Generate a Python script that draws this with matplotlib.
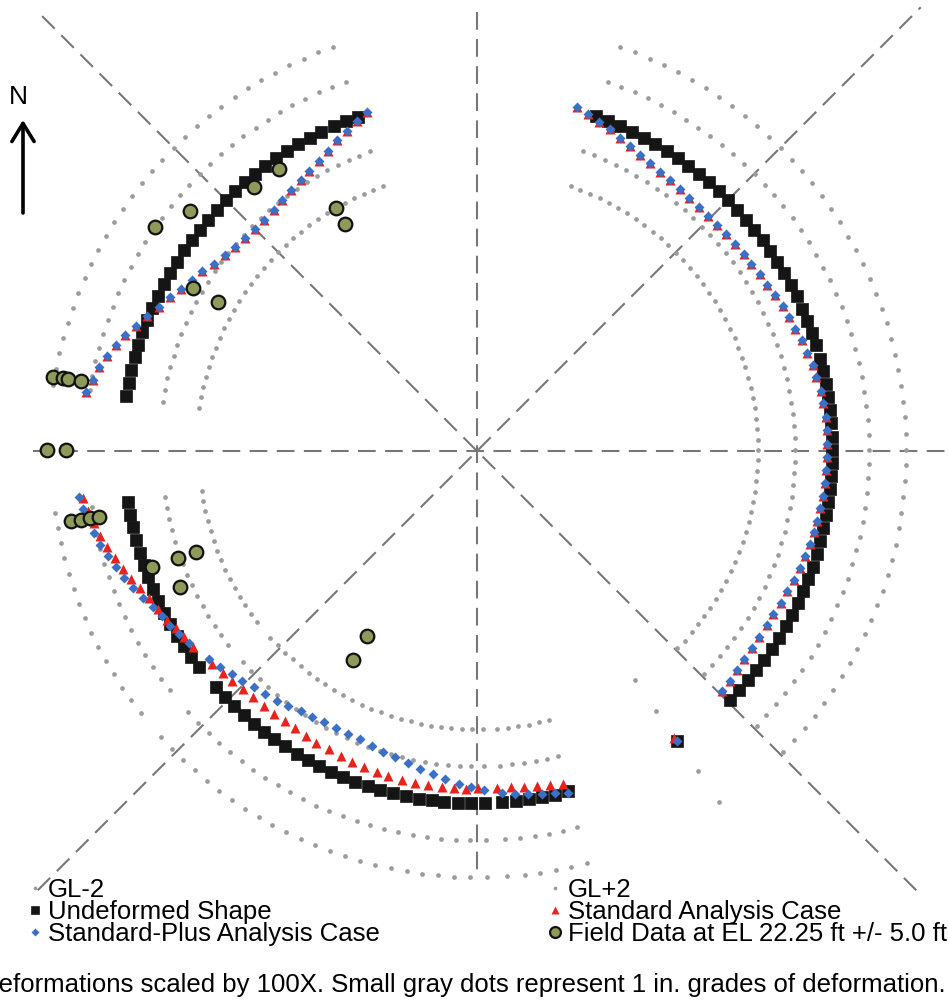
import numpy as np
import matplotlib
matplotlib.use("Agg")
from matplotlib import pyplot as plt

plt.rcParams['font.family'] = ['Liberation Sans', 'DejaVu Sans']

PX_PER_FT = 355 / 80.0     # drawing scale (pixels per foot)
SCALE = 100 / 12.0         # 1 in. of deformation drawn as 100 in. (in ft)

# wall stations, degrees counter-clockwise from east; deformations in inches
# (dr = radial, outward positive; dt = tangential, counter-clockwise positive)
right_angle = [70.5, 68.4, 66.2, 64.1, 62.0, 59.9, 57.7, 55.6, 53.5, 51.3,
               49.2, 47.1, 44.9, 42.8, 40.7, 38.6, 36.4, 34.3, 32.2, 30.0,
               27.9, 25.8, 23.6, 21.5, 19.4, 17.3, 15.1, 13.0, 10.9, 8.7,
               6.6, 4.5, 2.3, 0.2, -1.9, -4.0, -6.2, -8.3, -10.4, -12.6,
               -14.7, -16.8, -19.0, -21.1, -23.2, -25.3, -27.5, -29.6, -31.7, -33.9,
               -36.0, -38.1, -40.2, -42.4, -44.5]
right_radius = 80.0
right_plus_dr = [0.08, -0.03, -0.12, -0.21, -0.31, -0.38, -0.48, -0.53, -0.59, -0.62,
                 -0.65, -0.67, -0.69, -0.69, -0.69, -0.69, -0.66, -0.64, -0.62, -0.59,
                 -0.56, -0.50, -0.46, -0.42, -0.39, -0.32, -0.28, -0.23, -0.21, -0.17,
                 -0.15, -0.13, -0.11, -0.13, -0.14, -0.15, -0.16, -0.17, -0.19, -0.21,
                 -0.23, -0.26, -0.29, -0.32, -0.36, -0.39, -0.42, -0.45, -0.46, -0.47,
                 -0.46, -0.44, -0.41, -0.37, -0.33]
right_plus_dt = [0.56, 0.56, 0.57, 0.57, 0.57, 0.56, 0.55, 0.54, 0.52, 0.50,
                 0.48, 0.46, 0.44, 0.42, 0.40, 0.38, 0.36, 0.34, 0.33, 0.32,
                 0.30, 0.29, 0.28, 0.27, 0.26, 0.25, 0.24, 0.23, 0.22, 0.21,
                 0.20, 0.19, 0.18, 0.16, 0.15, 0.15, 0.15, 0.15, 0.16, 0.17,
                 0.18, 0.19, 0.19, 0.18, 0.17, 0.16, 0.14, 0.12, 0.10, 0.08,
                 0.06, 0.04, 0.03, 0.02, 0.02]
# both analysis cases plot on top of each other along this wall
right_std_dr = list(right_plus_dr)
right_std_dt = list(right_plus_dt)

single_angle = [-55.4]
single_radius = 79.4
single_plus_dr = [0.0]
single_plus_dt = [0.0]
single_std_dr = [-0.12]
single_std_dt = [-0.03]

bottom_angle = [188.3, 190.4, 192.5, 194.6, 196.8, 198.9, 201.0, 203.1, 205.2, 207.3,
                209.5, 211.6, 213.7, 215.8, 217.9, 222.1, 224.3, 226.4, 228.5, 230.7,
                232.8, 234.9, 237.0, 239.2, 241.3, 243.4, 245.6, 247.7, 249.8, 252.0,
                254.1, 256.2, 258.3, 260.5, 262.6, 264.7, 266.9, 269.0, 271.3, 274.1,
                276.4, 278.5, 280.7, 282.8, 284.9]
bottom_radius = 79.4
bottom_plus_dr = [1.29, 1.23, 1.12, 1.05, 0.96, 0.83, 0.71, 0.59, 0.47, 0.32,
                  0.17, 0.08, 0.01, -0.10, -0.19, -0.38, -0.48, -0.59, -0.66, -0.77,
                  -0.83, -0.89, -0.96, -1.04, -1.08, -1.11, -1.14, -1.13, -1.14, -1.07,
                  -1.01, -0.97, -0.89, -0.80, -0.72, -0.62, -0.51, -0.44, -0.36, -0.26,
                  -0.20, -0.15, -0.09, -0.05, 0.04]
bottom_plus_dt = [-0.33, -0.38, -0.43, -0.47, -0.51, -0.54, -0.57, -0.59, -0.61, -0.62,
                  -0.64, -0.66, -0.68, -0.69, -0.69, -0.69, -0.67, -0.65, -0.63, -0.61,
                  -0.58, -0.55, -0.52, -0.49, -0.46, -0.42, -0.38, -0.33, -0.28, -0.24,
                  -0.21, -0.17, -0.13, -0.09, -0.06, -0.03, -0.01, 0.00, -0.02, 0.01,
                  0.00, 0.00, 0.00, 0.00, 0.00]
bottom_std_dr = [1.19, 1.11, 1.00, 0.91, 0.80, 0.67, 0.55, 0.44, 0.31, 0.19,
                 0.09, 0.02, -0.11, -0.17, -0.22, -0.36, -0.43, -0.45, -0.51, -0.53,
                 -0.56, -0.56, -0.57, -0.58, -0.56, -0.53, -0.54, -0.50, -0.47, -0.46,
                 -0.44, -0.43, -0.41, -0.40, -0.40, -0.40, -0.40, -0.39, -0.42, -0.40,
                 -0.40, -0.36, -0.33, -0.29, -0.23]
bottom_std_dt = [-0.27, -0.30, -0.33, -0.33, -0.40, -0.43, -0.45, -0.48, -0.52, -0.53,
                 -0.53, -0.50, -0.53, -0.55, -0.53, -0.53, -0.50, -0.50, -0.47, -0.47,
                 -0.42, -0.40, -0.37, -0.40, -0.35, -0.35, -0.33, -0.28, -0.28, -0.28,
                 -0.23, -0.23, -0.18, -0.18, -0.15, -0.10, -0.13, -0.15, -0.17, -0.12,
                 -0.10, -0.08, -0.08, -0.08, -0.07]

left_angle = [109.6, 111.7, 113.8, 116.0, 118.1, 120.2, 122.3, 124.4, 126.6, 128.7,
              130.8, 132.9, 135.0, 137.2, 139.3, 141.4, 143.5, 145.6, 147.8, 149.9,
              152.0, 154.1, 156.2, 158.4, 160.5, 162.6, 164.7, 166.8, 169.0, 171.1]
left_radius = 80.0
left_plus_dr = [0.04, -0.11, -0.25, -0.38, -0.53, -0.66, -0.77, -0.87, -0.95, -1.00,
                -1.08, -1.10, -1.11, -1.08, -1.04, -0.97, -0.87, -0.73, -0.61, -0.48,
                -0.31, -0.15, 0.03, 0.23, 0.41, 0.57, 0.72, 0.86, 0.97, 1.08]
left_plus_dt = [-0.27, -0.28, -0.27, -0.27, -0.26, -0.25, -0.22, -0.20, -0.17, -0.14,
                -0.09, -0.04, 0.00, 0.04, 0.08, 0.12, 0.16, 0.19, 0.20, 0.21,
                0.23, 0.25, 0.26, 0.25, 0.22, 0.18, 0.15, 0.12, 0.10, 0.06]
left_std_dr = list(left_plus_dr)
left_std_dt = list(left_plus_dt)

# field survey points, ft from shaft centre
field_x = [-72.6, -64.7, -50.3, -44.6, -31.8, -29.7, -64.0, -58.4, -95.5, -93.3, -92.2, -89.2,
           -96.9, -92.6, -91.5, -89.2, -87.2, -85.2, -73.2, -67.4, -63.3, -66.9, -24.8, -27.9]
field_y = [50.5, 54.1, 59.5, 63.5, 54.8, 51.2, 36.7, 33.6, 16.7, 16.5, 16.2, 15.8,
           0.2, 0.2, -15.8, -15.5, -15.1, -14.9, -26.1, -24.1, -22.8, -30.6, -41.7, -47.1]

grades = [-2, -1, 1, 2]

segments = [
    (right_angle, right_radius, right_plus_dr, right_plus_dt, right_std_dr, right_std_dt),
    (single_angle, single_radius, single_plus_dr, single_plus_dt, single_std_dr, single_std_dt),
    (bottom_angle, bottom_radius, bottom_plus_dr, bottom_plus_dt, bottom_std_dr, bottom_std_dt),
    (left_angle, left_radius, left_plus_dr, left_plus_dt, left_std_dr, left_std_dt),
]


def place(angle, r0, dr, dt):
    a = np.radians(angle)
    r = r0 + SCALE * np.asarray(dr, float)
    t = SCALE * np.asarray(dt, float)
    return r * np.cos(a) - t * np.sin(a), r * np.sin(a) + t * np.cos(a)


def collect(which):
    xs, ys = [], []
    for seg in segments:
        ang, r0 = seg[0], seg[1]
        if which == 'base':
            x, y = place(ang, r0, np.zeros(len(ang)), np.zeros(len(ang)))
        elif which == 'plus':
            x, y = place(ang, r0, seg[2], seg[3])
        elif which == 'std':
            x, y = place(ang, r0, seg[4], seg[5])
        else:
            x, y = place(ang, r0, np.full(len(ang), which), np.zeros(len(ang)))
        xs.append(x)
        ys.append(y)
    return np.concatenate(xs), np.concatenate(ys)


W, H = 948, 1005
cx, cy = 477, 451
fig = plt.figure(figsize=(W / 100, H / 100), dpi=100)
ax = fig.add_axes([0, 0, 1, 1])
ax.set_xlim(-cx / PX_PER_FT, (W - cx) / PX_PER_FT)
ax.set_ylim(-(H - cy) / PX_PER_FT, cy / PX_PER_FT)
ax.axis('off')

dash = dict(color='#777777', lw=1.5, linestyle=(0, (8.5, 4.5)), zorder=1)
ax.plot([-100, 110], [0, 0], **dash)
ax.plot([0, 0], [99, -96], **dash)
ax.plot([-98, 99], [98, -99], **dash)
ax.plot([-99, 100], [-99, 100], **dash)

handles = {}
for g in grades:
    gx, gy = collect(g)
    lab = 'GL%+d' % g if abs(g) == 2 else '_nolegend_'
    h, = ax.plot(gx, gy, 'o', ms=3.4, color='#9c9c9c', mec='none', label=lab, zorder=2)
    handles[g] = h

bx, by = collect('base')
h_base, = ax.plot(bx, by, 's', ms=8.0, color='#151515', mec='#151515', mew=0.5,
                  label='Undeformed Shape', zorder=3)
sx, sy = collect('std')
h_std, = ax.plot(sx, sy, '^', ms=6.8, color='#e8231e', mec='none',
                 label='Standard Analysis Case', zorder=4)
px, py = collect('plus')
h_plus, = ax.plot(px, py, 'D', ms=5.0, color='#3a70c6', mec='none',
                  label='Standard-Plus Analysis Case', zorder=5)
h_field, = ax.plot(field_x, field_y, 'o', ms=9.8, color='#8d9a59', mec='#111111', mew=1.6,
                   label='Field Data at EL 22.25 ft +/- 5.0 ft', zorder=6)

fs = 18.5
leg_opts = dict(frameon=False, fontsize=fs, handlelength=0.5, handletextpad=0.25,
                labelspacing=-0.07, borderpad=0, borderaxespad=0, loc='upper left',
                markerscale=0.8)
fig.legend([handles[-2], h_base, h_plus],
           ['GL-2', 'Undeformed Shape', 'Standard-Plus Analysis Case'],
           bbox_to_anchor=(28.6 / W, 1 - 878 / H), **leg_opts)
fig.legend([handles[2], h_std, h_field],
           ['GL+2', 'Standard Analysis Case', 'Field Data at EL 22.25 ft +/- 5.0 ft'],
           bbox_to_anchor=(548.6 / W, 1 - 878 / H), **leg_opts)

fig.text(946 / W, 20 / H,
         'Deformations scaled by 100X. Small gray dots represent 1 in. grades of deformation.',
         ha='right', va='center', fontsize=fs)

# north arrow
fig.text(18 / W, 1 - 97 / H, 'N', ha='center', va='center', fontsize=19)
ax.annotate('', xy=(23 / W, 1 - 120 / H), xytext=(23 / W, 1 - 213 / H),
            xycoords='figure fraction', textcoords='figure fraction',
            arrowprops=dict(arrowstyle='->,head_length=0.65,head_width=0.4',
                            lw=2.6, color='black', mutation_scale=20,
                            shrinkA=0, shrinkB=0))

fig.savefig('out.png', dpi=100)
